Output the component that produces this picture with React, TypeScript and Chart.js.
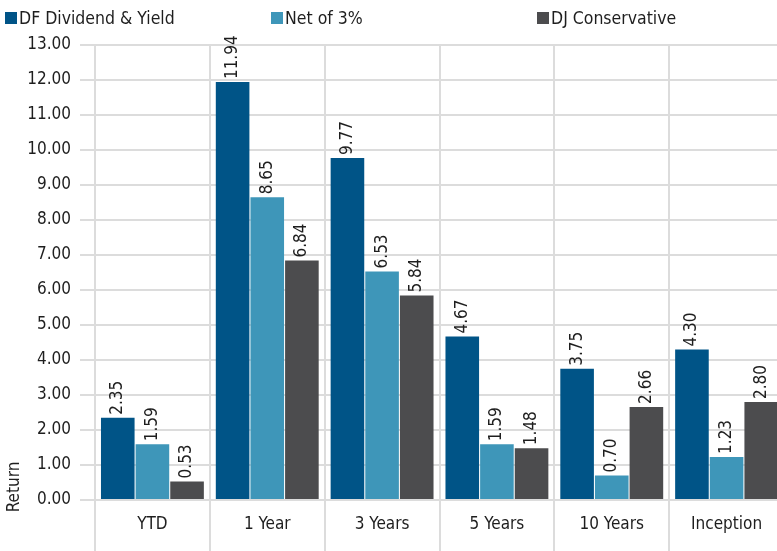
import React, { useEffect, useRef } from "react";
import { Chart, registerables } from "chart.js";

Chart.register(...registerables);

const categories = ["YTD", "1 Year", "3 Years", "5 Years", "10 Years", "Inception"];
const seriesNames = ["DF Dividend & Yield", "Net of 3%", "DJ Conservative"];
const dfDividend = [2.35, 11.94, 9.77, 4.67, 3.75, 4.3];
const netOf3 = [1.59, 8.65, 6.53, 1.59, 0.7, 1.23];
const djConservative = [0.53, 6.84, 5.84, 1.48, 2.66, 2.8];
const colors = ["#005487", "#3e96b9", "#4c4c4e"];
const yMin = 0;
const yMax = 13;
const yStep = 1;
const yTitle = "Return";

const FONT = "'Liberation Sans Narrow', 'DejaVu Sans Condensed', 'Roboto Condensed', 'Liberation Sans', sans-serif";

const valueLabels = {
  id: "valueLabels",
  afterDatasetsDraw(chart: any) {
    const ctx = chart.ctx;
    ctx.save();
    ctx.font = `17px ${FONT}`;
    ctx.fillStyle = "#1e1e1e";
    ctx.textAlign = "left";
    ctx.textBaseline = "middle";
    chart.data.datasets.forEach((ds: any, i: number) => {
      const meta = chart.getDatasetMeta(i);
      meta.data.forEach((bar: any, j: number) => {
        const v = ds.data[j] as number;
        ctx.save();
        ctx.translate(bar.x, bar.y - 3);
        ctx.rotate(-Math.PI / 2);
        ctx.fillText(v.toFixed(2), 0, 0);
        ctx.restore();
      });
    });
    // y axis title, placed low next to the axis like the reference
    const yScale = chart.scales.y;
    ctx.save();
    ctx.translate(15, yScale.getPixelForValue(yMin) - 13);
    ctx.rotate(-Math.PI / 2);
    ctx.textAlign = "center";
    ctx.textBaseline = "middle";
    ctx.fillText(yTitle, 0, 0);
    ctx.restore();
    ctx.restore();
  },
};

export default function App() {
  const ref = useRef<HTMLCanvasElement | null>(null);
  useEffect(() => {
    if (!ref.current) return;
    const data = [dfDividend, netOf3, djConservative];
    const chart = new Chart(ref.current, {
      type: "bar",
      data: {
        labels: categories,
        datasets: seriesNames.map((name, i) => ({
          label: name,
          data: data[i],
          backgroundColor: colors[i],
          borderWidth: 0,
          barPercentage: 0.97,
          categoryPercentage: 0.905,
        })),
      },
      options: {
        animation: false,
        responsive: false,
        maintainAspectRatio: false,
        layout: { padding: { top: 45, left: 0, right: 16, bottom: 0 } },
        plugins: {
          legend: { display: false },
          tooltip: { enabled: false },
        },
        scales: {
          x: {
            grid: { color: "#dcdcdc", lineWidth: 2, tickLength: 51, offset: true },
            border: { display: false },
            ticks: { color: "#1e1e1e", font: { family: FONT, size: 17 }, padding: -37 },
            afterFit: (s: any) => { s.height = 51; },
          },
          y: {
            min: yMin,
            max: yMax,
            grid: { color: "#dcdcdc", lineWidth: 2, tickLength: 15 },
            border: { display: false },
            ticks: {
              stepSize: yStep,
              color: "#1e1e1e",
              font: { family: FONT, size: 17 },
              padding: 9,
              callback: (v: any) => Number(v).toFixed(2),
            },
            afterFit: (s: any) => { s.width = 95; },
          },
        },
      },
      plugins: [valueLabels],
    });
    return () => chart.destroy();
  }, []);

  return (
    <div style={{ position: "fixed", left: 0, top: 0, width: 777, height: 551, overflow: "hidden", background: "#fff" }}>
      <canvas ref={ref} width={800} height={551} style={{ position: "absolute", left: 0, top: 0, width: 800, height: 551 }} />
      {seriesNames.map((name, i) => (
        <div
          key={name}
          style={{
            position: "absolute",
            left: 5 + i * 266,
            top: 4,
            height: 28,
            display: "flex",
            alignItems: "center",
            fontFamily: FONT,
            fontSize: 17.5,
            color: "#1e1e1e",
            whiteSpace: "nowrap",
          }}
        >
          <span style={{ display: "inline-block", width: 12, height: 12, background: colors[i], marginRight: 2 }} />
          {name}
        </div>
      ))}
    </div>
  );
}
